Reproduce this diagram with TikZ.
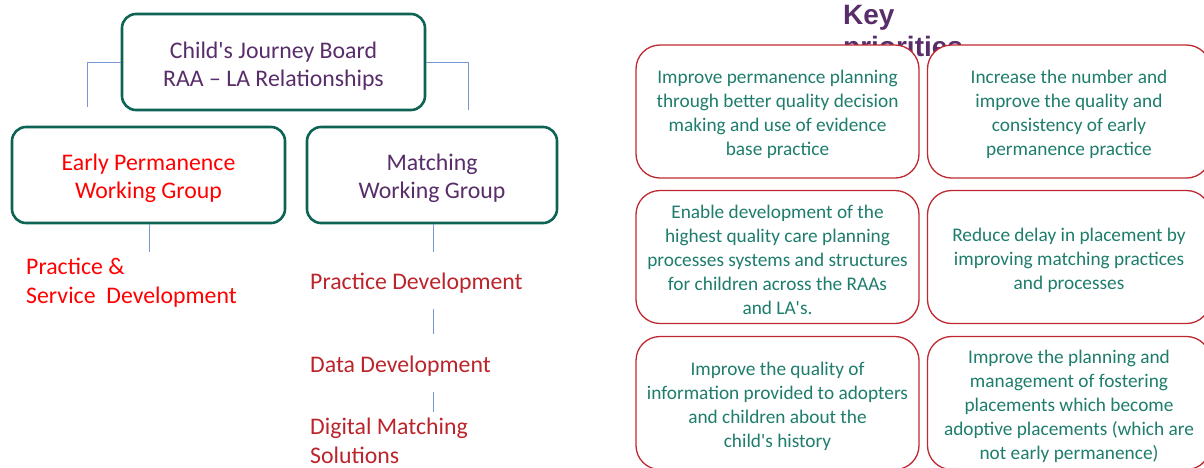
\documentclass[tikz,border=0pt]{standalone}
\usepackage{fontspec}
\setmainfont{Carlito}
\newfontfamily\keyfont{Liberation Sans}
\usepackage{xcolor}
\definecolor{boardgreen}{RGB}{14,100,84}
\definecolor{boardpurple}{RGB}{88,45,105}
\definecolor{taskred}{RGB}{188,36,44}
\definecolor{prioborder}{RGB}{190,40,48}
\definecolor{prioteal}{RGB}{30,125,108}
\definecolor{linkblue}{RGB}{120,150,210}
\newcommand{\apos}{\textquotesingle}
\newcommand{\topgap}[1]{\rule{0pt}{#1}}
\tikzset{
  groupbox/.style={draw=boardgreen, line width=2.6pt, rounded corners=14pt,
    minimum height=96pt, align=center, font=\fontsize{23.8}{28}\selectfont},
  prio/.style={draw=prioborder, line width=1.3pt, rounded corners=24pt, fill=white,
    text=prioteal, align=center, minimum width=283pt, minimum height=133pt,
    font=\fontsize{19.3}{24}\selectfont},
  task/.style={anchor=west, align=left, inner sep=0pt, text=taskred,
    font=\fontsize{23.8}{29}\selectfont},
  link/.style={draw=linkblue, line width=0.8pt}
}
\begin{document}
\begin{tikzpicture}[x=1pt, y=-1pt]
  \useasboundingbox (0,0) rectangle (1204,467);
  \clip (0,0) rectangle (1204,467);

  % left side: board and working groups
  \node[groupbox, minimum width=303pt, text=boardpurple] (board) at (273.5,62)
    {\topgap{24pt}Child\apos s Journey Board\\RAA -- LA Relationships};
  \node[groupbox, minimum width=273pt, text=red] (epwg) at (148.5,175)
    {\topgap{24pt}Early Permanence\\Working Group};
  \node[groupbox, minimum width=250pt, text=boardpurple] (mwg) at (432,175)
    {\topgap{24pt}Matching\\Working Group};

  \coordinate (lfoot) at (87,107);
  \coordinate (rfoot) at (468,110);
  \draw[link] (board.west) -| (lfoot);
  \draw[link] (board.east) -| (rfoot);

  \node[task, text=red] (psd) at (26,283) {Practice \&\\Service\ \ Development};
  \node[task] (pd) at (310,283) {Practice Development};
  \node[task] (dd) at (310,366) {Data Development};
  \node[task] (dms) at (310,441) {Digital Matching\\Solutions};

  \coordinate (epfoot) at (149,252);
  \coordinate (mfoot) at (433,252);
  \coordinate (pdlow) at (433,309);
  \coordinate (ddtop) at (433,334);
  \coordinate (ddlow) at (433,392);
  \coordinate (dmstop) at (433,412);
  \draw[link] (epwg.south -| epfoot) -- (epfoot);
  \draw[link] (mwg.south -| mfoot) -- (mfoot);
  \draw[link] (pdlow) -- (ddtop);
  \draw[link] (ddlow) -- (dmstop);

  % right side: key priorities
  \node[anchor=north west, inner sep=0pt, align=left, text=boardpurple,
    font=\keyfont\bfseries\fontsize{28}{32}\selectfont] (keytitle) at (843,5)
    {Key\\priorities};

  \node[prio] (p1) at (777.5,111.5) {\topgap{19.5pt}Improve permanence planning\\through better quality decision\\making and use of evidence\\base practice};
  \node[prio] (p2) at (1069,111.5) {\topgap{19.5pt}Increase the number and\\improve the quality and\\consistency of early\\permanence practice};
  \node[prio] (p3) at (777.5,257) {\topgap{19.5pt}Enable development of the\\highest quality care planning\\processes systems and structures\\for children across the RAAs\\and LA\apos s.};
  \node[prio] (p4) at (1069,257) {\topgap{19.5pt}Reduce delay in placement by\\improving matching practices\\and processes};
  \node[prio] (p5) at (777.5,403) {\topgap{19.5pt}Improve the quality of\\information provided to adopters\\and children about the\\child\apos s history};
  \node[prio] (p6) at (1069,403) {\topgap{19.5pt}Improve the planning and\\management of fostering\\placements which become\\adoptive placements (which are\\not early permanence)};
\end{tikzpicture}
\end{document}
